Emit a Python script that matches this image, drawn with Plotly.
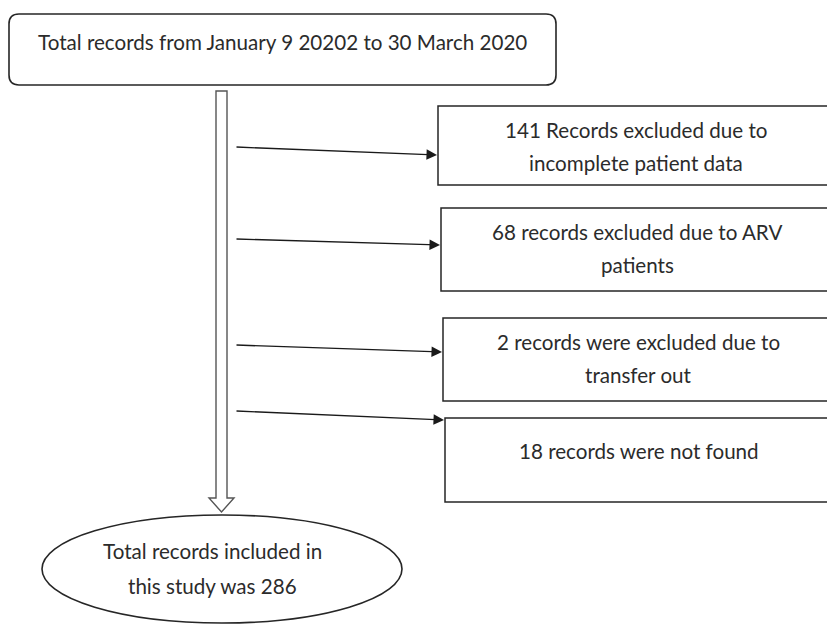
import plotly.graph_objects as go

# ---- data ----
start_text = "Total records from January 9 20202 to 30 March 2020"
excluded_counts = [141, 68, 2, 18]
excluded_lines = [
    ["141 Records excluded due to", "incomplete patient data"],
    ["68 records excluded due to ARV", "patients"],
    ["2 records were excluded due to", "transfer out"],
    ["18 records were not found"],
]
included_total = 286
included_lines = ["Total records included in", "this study was 286"]

W, H = 835, 625
OFF = 8  # page body margin compensation
FONT = dict(family="Lato, Open Sans, sans-serif", size=20.6, color="#2b2b2b")
LINE = "#262626"

fig = go.Figure()
shapes = []
annotations = []

# top rounded box
x0, y0, x1, y1, r = 9, 14, 556, 85, 10
path = (f"M {x0+r} {y0} L {x1-r} {y0} Q {x1} {y0} {x1} {y0+r} "
        f"L {x1} {y1-r} Q {x1} {y1} {x1-r} {y1} L {x0+r} {y1} "
        f"Q {x0} {y1} {x0} {y1-r} L {x0} {y0+r} Q {x0} {y0} {x0+r} {y0} Z")
shapes.append(dict(type="path", path=path, line=dict(color=LINE, width=1.6),
                   xref="x", yref="y"))
annotations.append(dict(x=282, y=42, text=start_text, showarrow=False,
                        font=FONT, xref="x", yref="y"))

# hollow down arrow
ap = "M 216 91 L 227 91 L 227 498 L 234 498 L 221.5 512 L 209 498 L 216 498 Z"
shapes.append(dict(type="path", path=ap, line=dict(color="#555", width=1.4),
                   fillcolor="white", xref="x", yref="y"))

# exclusion boxes
boxes = [(438, 106, 833, 185), (441, 208, 833, 291),
         (443, 318, 833, 401), (445, 418, 833, 502)]
arrow_y = [(147, 155), (239, 245), (345, 352), (411, 420)]
for (bx0, by0, bx1, by1), lines, (ys, ye) in zip(boxes, excluded_lines, arrow_y):
    shapes.append(dict(type="rect", x0=bx0, y0=by0, x1=bx1, y1=by1,
                       line=dict(color=LINE, width=1.5), xref="x", yref="y"))
    cx = (bx0 + bx1) / 2
    if len(lines) == 2:
        ys_text = [by0 + 24, by0 + 57]
    else:
        ys_text = [by0 + 33]
    for t, ty in zip(lines, ys_text):
        annotations.append(dict(x=cx, y=ty, text=t, showarrow=False, font=FONT,
                                xref="x", yref="y"))
    annotations.append(dict(x=bx0 - 1, y=ye, ax=235, ay=ys, xref="x", yref="y",
                            axref="x", ayref="y", text="", showarrow=True,
                            arrowhead=2, arrowsize=1.5, arrowwidth=1.4,
                            arrowcolor="#1a1a1a"))

# ellipse
shapes.append(dict(type="circle", x0=42, y0=515, x1=402, y1=623,
                   line=dict(color=LINE, width=1.6), xref="x", yref="y"))
for t, ty in zip(included_lines, [551, 586]):
    annotations.append(dict(x=212, y=ty, text=t, showarrow=False, font=FONT,
                            xref="x", yref="y"))

fig.update_layout(
    width=W, height=H, margin=dict(l=0, r=0, t=0, b=0),
    plot_bgcolor="white", paper_bgcolor="white",
    xaxis=dict(range=[OFF, W + OFF], visible=False, fixedrange=True),
    yaxis=dict(range=[H + OFF, OFF], visible=False, fixedrange=True),
    shapes=shapes, annotations=annotations, showlegend=False,
)
fig.write_html("out.html")
